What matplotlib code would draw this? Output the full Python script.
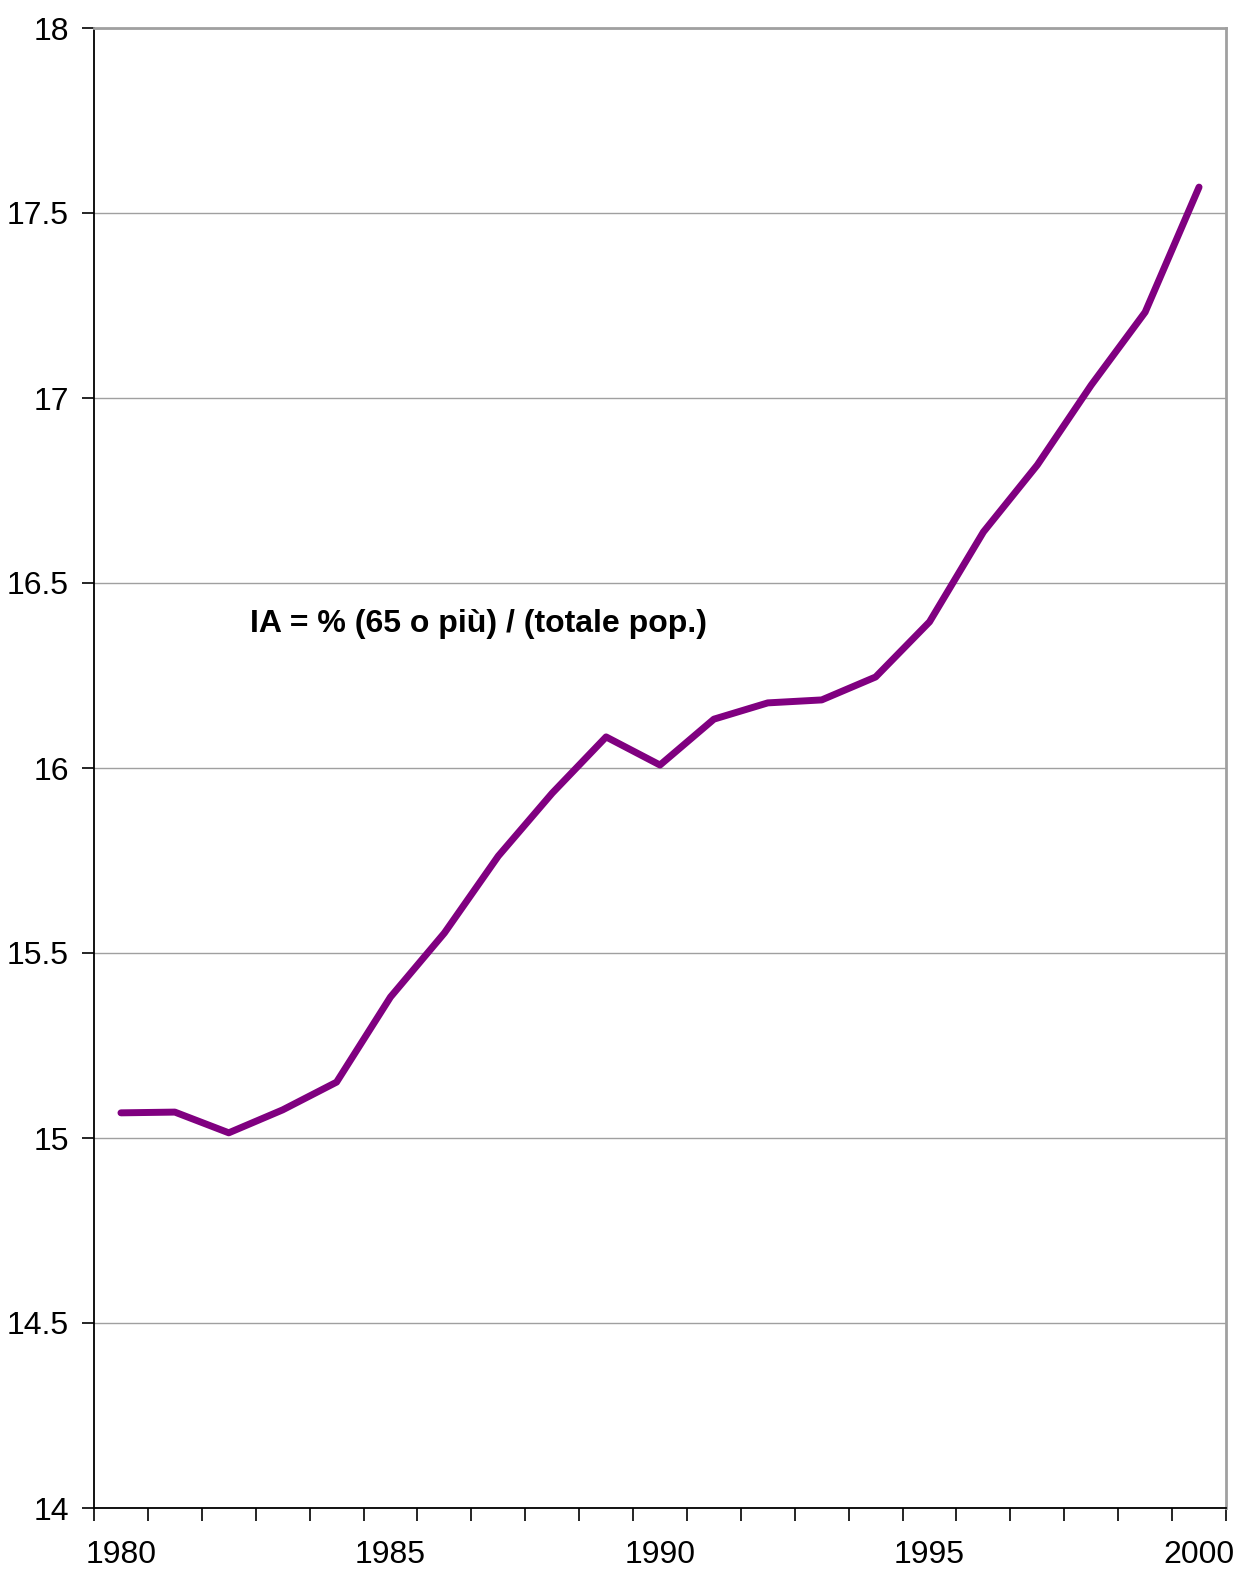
import numpy as np
import matplotlib.pyplot as plt

plt.rcParams['font.family'] = ['Liberation Sans', 'DejaVu Sans']

# Indice di anzianità, 1980-2000
anni = list(range(1980, 2001))
ia = [15.068, 15.07, 15.014, 15.076, 15.151, 15.381, 15.554, 15.762, 15.932,
      16.084, 16.008, 16.132, 16.176, 16.184, 16.246, 16.395, 16.638, 16.819,
      17.035, 17.232, 17.570]
anni_etichette = [1980, 1985, 1990, 1995, 2000]
y_ticks = [14, 14.5, 15, 15.5, 16, 16.5, 17, 17.5, 18]

fig = plt.figure(figsize=(12.4, 15.7), dpi=100)
ax = fig.add_axes([94 / 1240, 1 - 1508 / 1570, (1226 - 94) / 1240, (1508 - 28) / 1570])

ax.plot(anni, ia, color='#800080', linewidth=5.0, solid_capstyle='round',
        solid_joinstyle='round', zorder=3)

ax.set_xlim(anni[0] - 0.5, anni[-1] + 0.5)
ax.set_ylim(14, 18)

# category-style axis: tick marks between years, labels at year centres
ax.set_xticks(np.arange(anni[0] - 0.5, anni[-1] + 1, 1.0))
ax.set_xticklabels([])
ax.set_xticks(anni_etichette, minor=True)
ax.set_xticklabels([str(a) for a in anni_etichette], minor=True)
ax.tick_params(axis='x', which='major', direction='out', length=9, width=1.2, color='black')
ax.tick_params(axis='x', which='minor', length=0, pad=23, labelsize=23)

ax.set_yticks(y_ticks)
ax.set_yticklabels(['14', '14.5', '15', '15.5', '16', '16.5', '17', '17.5', '18'])
ax.tick_params(axis='y', direction='out', length=9, width=1.2, color='black',
               labelsize=23, pad=9)

ax.grid(axis='y', color='#a0a0a0', linewidth=1.0)
ax.set_axisbelow(True)

for side in ['left', 'bottom']:
    ax.spines[side].set_color('black')
    ax.spines[side].set_linewidth(1.3)
for side in ['right', 'top']:
    ax.spines[side].set_color('#a0a0a0')
    ax.spines[side].set_linewidth(2.0)

ax.text(1982.39, 16.39, 'IA = % (65 o più) / (totale pop.)', fontsize=23,
        fontweight='bold', ha='left', va='center')

fig.savefig('out.png', dpi=100)
